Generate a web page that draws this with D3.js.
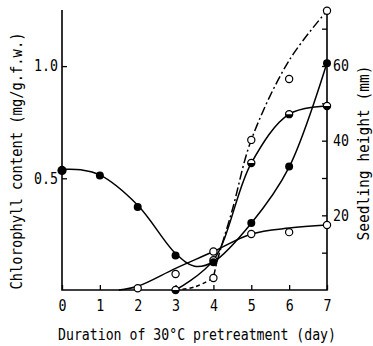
<!DOCTYPE html>
<html><head><meta charset="utf-8">
<script src="https://cdn.jsdelivr.net/npm/d3@7"></script>
<style>body{margin:0;background:#fff}svg{display:block}</style>
</head><body>
<svg id="c" width="373" height="346"></svg>
<script>
// ---- data ----
const xTicks = [0,1,2,3,4,5,6,7];
const leftTicks = [0.5, 1.0];
const rightTicks = [10,20,30,40,50,60,70];
const rightLabels = [20,40,60];

// Chlorophyll content (filled circles, left axis)
const chlDays = [0,1,2,3,4,5,6,7];
const chlValues = [0.535,0.512,0.372,0.156,0.126,0.301,0.553,1.013];
const chlFitDays = [0,0.5,1,2,3,3.5,4,5,6,7];
const chlFitValues = [0.54,0.538,0.515,0.38,0.165,0.108,0.128,0.30,0.55,1.015];

// Seedling height, half-filled circles, solid line (right axis)
const hbDays = [3,4,5,6,7];
const hbValues = [0,8,34,47.1,49.3];

// Seedling height, open circles, solid plateau line (right axis)
const hcDays = [2,3,4,5,6,7];
const hcValues = [0.45,4.3,10.3,15.0,15.5,17.4];
const hcFitDays = [1.5,2,3,4,5,6,7];
const hcFitValues = [0,1.0,5.8,10.3,15.0,16.6,17.4];

// Seedling height, open circles, dashed / dash-dot line (right axis)
const hdDays = [4,5,6,7];
const hdValues = [3.2,40.2,56.5,74.8];
const hdDashDays = [3,3.5,4];
const hdDashValues = [0,0.8,3.2];
const hdFitDays = [4,4.08,4.5,5,6,7];
const hdFitValues = [3.2,7,21.5,40.2,61.5,74.8];

// ---- drawing ----
const svg = d3.select("#c");
const FONT = "'DejaVu Sans Mono', monospace";
const x = d3.scaleLinear().domain([0,7]).range([62,327]);
const yL = d3.scaleLinear().domain([0,1.25]).range([290.5,10]);
const yR = d3.scaleLinear().domain([0,75]).range([290,10]);

// frame
svg.append("path").attr("d", d3.line()([[x(0),10],[x(0),290],[x(7),290],[x(7),10]]))
  .attr("fill","none").attr("stroke","#000").attr("stroke-width",1.6);

const gx = svg.append("g").attr("transform","translate(0,290)")
  .call(d3.axisBottom(x).tickValues(xTicks).tickFormat(d3.format("d")).tickSizeInner(-5).tickSizeOuter(0).tickPadding(10));
const gl = svg.append("g").attr("transform",`translate(${x(0)},0)`)
  .call(d3.axisLeft(yL).tickValues(leftTicks).tickFormat(d3.format(".1f")).tickSizeInner(-5).tickSizeOuter(0).tickPadding(4));
const gr = svg.append("g").attr("transform",`translate(${x(7)},0)`)
  .call(d3.axisRight(yR).tickValues(rightTicks).tickFormat(d => rightLabels.includes(d) ? d : "").tickSizeInner(-5).tickSizeOuter(0).tickPadding(6));
[gx,gl,gr].forEach(g => {
  g.select(".domain").remove();
  g.selectAll(".tick line").attr("stroke","#000").attr("stroke-width",1.3);
  g.selectAll("text").attr("font-family",FONT).attr("font-size",15).attr("fill","#000");
});
gx.selectAll("text").attr("textLength",8).attr("lengthAdjust","spacingAndGlyphs");
gl.selectAll("text").attr("textLength",24).attr("lengthAdjust","spacingAndGlyphs");
gr.selectAll("text").attr("textLength",16).attr("lengthAdjust","spacingAndGlyphs");

// axis titles
svg.append("text").attr("x",197).attr("y",340).attr("text-anchor","middle")
  .attr("font-family",FONT).attr("font-size",15).attr("textLength",278).attr("lengthAdjust","spacingAndGlyphs")
  .text("Duration of 30°C pretreatment (day)");
svg.append("text").attr("transform","translate(22,161) rotate(-90)").attr("text-anchor","middle")
  .attr("font-family",FONT).attr("font-size",15).attr("textLength",257).attr("lengthAdjust","spacingAndGlyphs")
  .text("Chlorophyll content (mg/g.f.w.)");
svg.append("text").attr("transform","translate(369,153) rotate(-90)").attr("text-anchor","middle")
  .attr("font-family",FONT).attr("font-size",15).attr("textLength",175).attr("lengthAdjust","spacingAndGlyphs")
  .text("Seedling height (mm)");

// lines
const curve = d3.curveCatmullRom.alpha(0.5);
function drawLine(ds, vs, y, dash){
  svg.append("path").datum(ds.map((d,i)=>[d,vs[i]]))
    .attr("d", d3.line().x(d=>x(d[0])).y(d=>y(d[1])).curve(curve))
    .attr("fill","none").attr("stroke","#000").attr("stroke-width",1.5)
    .attr("stroke-dasharray", dash || null);
}
drawLine(chlFitDays, chlFitValues, yL);
drawLine(hbDays, hbValues, yR);
drawLine(hcFitDays, hcFitValues, yR);
drawLine(hdDashDays, hdDashValues, yR, "4,3");
drawLine(hdFitDays, hdFitValues, yR, "9,3,2,3");

// markers
function openPts(ds, vs, y){
  svg.append("g").selectAll("circle").data(ds.map((d,i)=>[d,vs[i]])).join("circle")
    .attr("cx",d=>x(d[0])).attr("cy",d=>y(d[1])).attr("r",3.6)
    .attr("fill","#fff").attr("stroke","#000").attr("stroke-width",1.2);
}
function filledPts(ds, vs, y){
  svg.append("g").selectAll("circle").data(ds.map((d,i)=>[d,vs[i]])).join("circle")
    .attr("cx",d=>x(d[0])).attr("cy",d=>y(d[1])).attr("r",(d)=>d[0]===0?4.6:4)
    .attr("fill","#000");
}
function halfPts(ds, vs, y){
  const g = svg.append("g").selectAll("g").data(ds.map((d,i)=>[d,vs[i]])).join("g")
    .attr("transform",d=>`translate(${x(d[0])},${y(d[1])})`);
  g.append("circle").attr("r",3.6).attr("fill","#fff").attr("stroke","#000").attr("stroke-width",1.2);
  g.append("path").attr("d", d3.arc()({innerRadius:0,outerRadius:3.6,startAngle:Math.PI/2,endAngle:Math.PI*1.5})).attr("fill","#000");
}
openPts(hcDays, hcValues, yR);
openPts(hdDays, hdValues, yR);
halfPts(hbDays, hbValues, yR);
filledPts(chlDays, chlValues, yL);
</script>
</body></html>
